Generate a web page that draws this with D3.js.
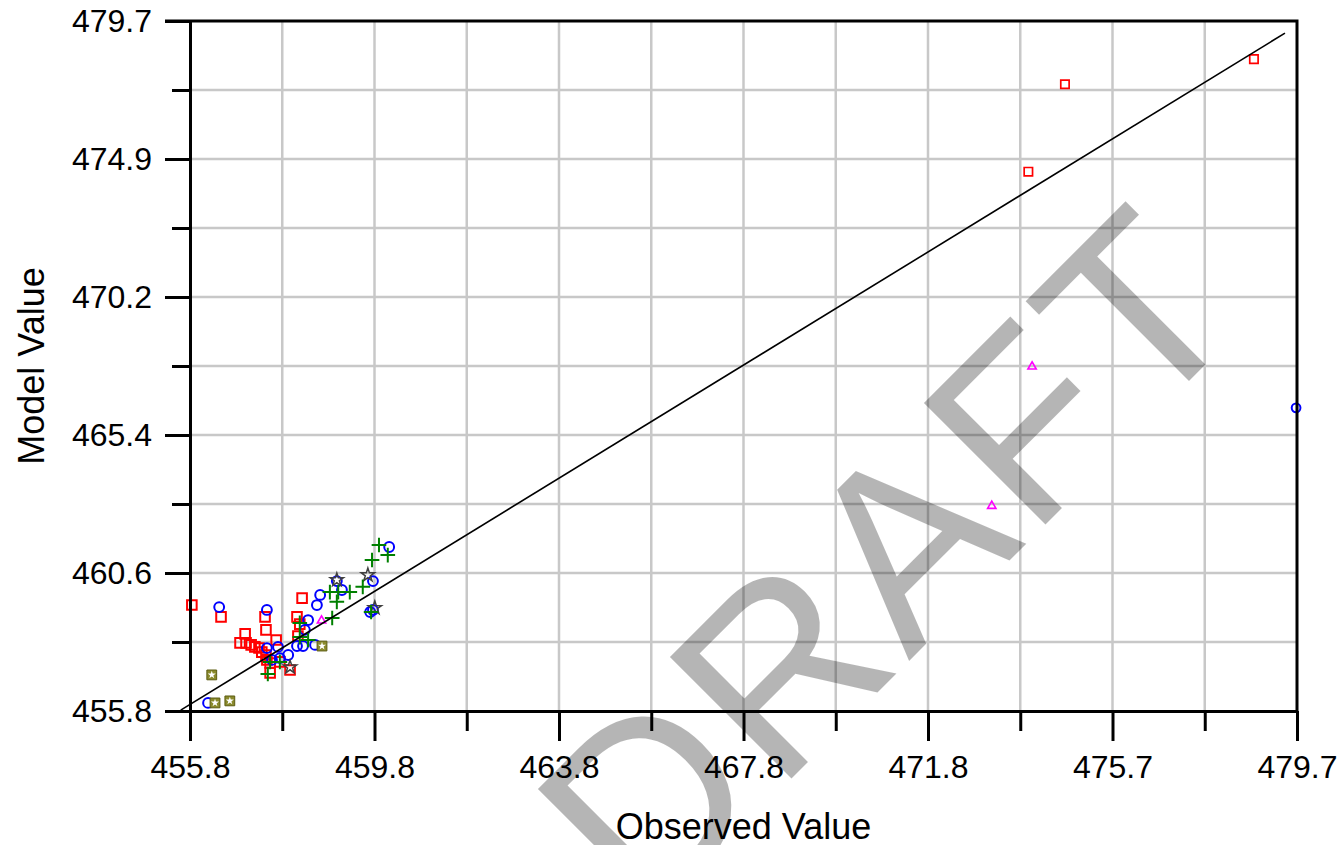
<!DOCTYPE html>
<html>
<head>
<meta charset="utf-8">
<script src="https://cdn.jsdelivr.net/npm/d3@7"></script>
<style>
body { margin: 0; background: #fff; }
text { font-family: "Liberation Sans", Arial, sans-serif; }
</style>
</head>
<body>
<script>
// axis ranges and labels
var xDomain = [455.8, 479.7];
var yDomain = [455.8, 479.7];
var xLabels = ["455.8", "459.8", "463.8", "467.8", "471.8", "475.7", "479.7"];
var yLabels = ["455.8", "460.6", "465.4", "470.2", "474.9", "479.7"];

// series, [observed, model]
var redSquares = [
  [455.84, 459.47], [456.47, 459.06], [458.22, 459.71], [457.42, 459.06], [457.44, 458.61],
  [458.11, 459.06], [456.99, 458.47], [456.88, 458.16], [457.01, 458.16], [457.12, 458.09],
  [457.20, 458.02], [457.29, 457.98], [457.35, 457.84], [457.44, 457.74], [457.53, 457.46],
  [457.53, 457.12], [457.96, 457.22], [458.13, 458.40], [457.66, 458.26], [458.17, 458.81],
  [457.46, 457.57], [457.74, 457.50],
  [473.90, 474.48], [474.69, 477.51], [478.77, 478.38]
];
var blueCircles = [
  [456.43, 459.40], [457.46, 459.30], [458.61, 459.82], [458.54, 459.47], [458.97, 460.30],
  [459.08, 459.99], [459.75, 460.30], [460.10, 461.48], [459.75, 459.30], [459.69, 459.23],
  [458.35, 458.95], [458.28, 458.61], [458.24, 458.05], [458.11, 458.05], [457.70, 458.02],
  [457.46, 457.98], [458.50, 458.09], [457.92, 457.74], [457.74, 457.63], [457.57, 457.57],
  [456.19, 456.08], [479.68, 466.30]
];
var greenPlus = [
  [459.88, 461.55], [460.07, 461.20], [459.73, 461.03], [459.53, 460.10], [458.82, 459.92],
  [459.00, 459.92], [459.25, 459.92], [458.97, 459.58], [458.87, 459.02], [458.17, 458.85],
  [458.17, 458.36], [458.35, 458.26], [457.53, 457.50], [457.74, 457.50], [457.48, 457.08],
  [459.71, 459.23]
];
var magentaTriangles = [[458.64, 458.93], [473.98, 467.73], [473.11, 462.90]];
var oliveSquares = [[458.65, 458.05], [456.27, 457.05], [456.66, 456.15], [456.34, 456.08]];
var darkStars = [[459.64, 460.51], [458.97, 460.34], [459.79, 459.37], [457.96, 457.32]];
var fitLine = [[455.6, 455.83], [479.44, 479.28]];

var width = 1338, height = 845;
var x0 = 190, x1 = 1297, y0 = 21, y1 = 711;

var svg = d3.select("body").append("svg")
  .attr("width", width)
  .attr("height", height);

var x = d3.scaleLinear().domain(xDomain).range([x0, x1]);
var y = d3.scaleLinear().domain(yDomain).range([y1, y0]);

// 12 x intervals, 10 y intervals (labels on every other one)
var xTicks = d3.range(13).map(function(i) { return xDomain[0] + i * (xDomain[1] - xDomain[0]) / 12; });
var yTicks = d3.range(11).map(function(i) { return yDomain[0] + i * (yDomain[1] - yDomain[0]) / 10; });

// grid
var grid = svg.append("g").attr("stroke", "#c8c8c8").attr("stroke-width", 2.5);
grid.selectAll("line.v").data(xTicks.slice(1, -1)).enter().append("line")
  .attr("x1", function(d) { return x(d); }).attr("x2", function(d) { return x(d); })
  .attr("y1", y0).attr("y2", y1);
grid.selectAll("line.h").data(yTicks.slice(1, -1)).enter().append("line")
  .attr("y1", function(d) { return y(d); }).attr("y2", function(d) { return y(d); })
  .attr("x1", x0).attr("x2", x1);

var marks = svg.append("g");
function sym(type, size) { return d3.symbol().type(type).size(size); }
function tr(d) { return "translate(" + x(d[0]) + "," + y(d[1]) + ")"; }
// outliers far from the cluster are drawn a bit smaller
function small(d) { return d[0] > 465; }

marks.selectAll("path.red").data(redSquares).enter().append("path")
  .attr("d", function(d) { return sym(d3.symbolSquare, small(d) ? 70 : 92)(); })
  .attr("transform", tr)
  .attr("fill", "none").attr("stroke", "#ff0000")
  .attr("stroke-width", function(d) { return small(d) ? 1.7 : 2; });

marks.selectAll("path.blue").data(blueCircles).enter().append("path")
  .attr("d", function(d) { return sym(d3.symbolCircle, small(d) ? 60 : 76)(); })
  .attr("transform", tr)
  .attr("fill", "none").attr("stroke", "#0000ff").attr("stroke-width", 2);

marks.selectAll("path.olive").data(oliveSquares).enter().append("g")
  .attr("transform", tr)
  .each(function() {
    var g = d3.select(this);
    g.append("path").attr("d", sym(d3.symbolSquare, 96)())
      .attr("fill", "#8a8a2c").attr("stroke", "#5c5c12").attr("stroke-width", 1);
    g.append("path").attr("d", sym(d3.symbolStar, 20)()).attr("fill", "#fff");
  });

marks.selectAll("path.dark").data(darkStars).enter().append("path")
  .attr("d", sym(d3.symbolStar, 55)).attr("transform", tr)
  .attr("fill", "none").attr("stroke", "#404040").attr("stroke-width", 1.5);

marks.selectAll("path.green").data(greenPlus).enter().append("path")
  .attr("d", sym(d3.symbolPlus, 72)).attr("transform", tr)
  .attr("fill", "none").attr("stroke", "#008000").attr("stroke-width", 2);

marks.selectAll("path.mag").data(magentaTriangles).enter().append("path")
  .attr("d", sym(d3.symbolTriangle, 30)).attr("transform", tr)
  .attr("fill", "none").attr("stroke", "#ff00ff").attr("stroke-width", 1.6);

svg.append("path")
  .datum(fitLine)
  .attr("d", d3.line().x(function(d) { return x(d[0]); }).y(function(d) { return y(d[1]); }))
  .attr("fill", "none").attr("stroke", "#000").attr("stroke-width", 1.6);

// frame top + right
svg.append("path")
  .attr("d", "M" + (x0 - 25) + "," + y0 + "H" + x1 + "V" + y1)
  .attr("fill", "none").attr("stroke", "#000").attr("stroke-width", 3);

var xAxis = d3.axisBottom(x).tickValues(xTicks).tickSize(30).tickSizeOuter(0).tickPadding(14)
  .tickFormat(function(d, i) { return i % 2 == 0 ? xLabels[i / 2] : ""; });
var gx = svg.append("g").attr("transform", "translate(0," + y1 + ")").call(xAxis);
gx.selectAll(".tick line").attr("y2", function(d, i) { return i % 2 == 0 ? 30 : 20; });

var yAxis = d3.axisLeft(y).tickValues(yTicks).tickSize(25).tickSizeOuter(0).tickPadding(13)
  .tickFormat(function(d, i) { return i % 2 == 0 ? yLabels[i / 2] : ""; });
var gy = svg.append("g").attr("transform", "translate(" + x0 + ",0)").call(yAxis);
gy.selectAll(".tick line").attr("x2", function(d, i) { return i % 2 == 0 ? -25 : -18; });

[gx, gy].forEach(function(g) {
  g.selectAll("path.domain, .tick line").attr("stroke", "#000").attr("stroke-width", 3);
  g.selectAll("text").attr("font-size", 32).attr("fill", "#000")
    .style("font-family", "'Liberation Sans', Arial, sans-serif");
});

svg.append("text")
  .attr("x", (x0 + x1) / 2).attr("y", 839)
  .attr("text-anchor", "middle").attr("font-size", 36)
  .text("Observed Value");

svg.append("text")
  .attr("transform", "translate(44," + (y0 + y1) / 2 + ") rotate(-90)")
  .attr("text-anchor", "middle").attr("font-size", 36)
  .text("Model Value");

// watermark
svg.append("text")
  .attr("transform", "translate(645,925) rotate(-45)")
  .attr("font-size", 250)
  .attr("letter-spacing", 6)
  .attr("fill", "#000").attr("fill-opacity", 0.29)
  .text("DRAFT");
</script>
</body>
</html>
